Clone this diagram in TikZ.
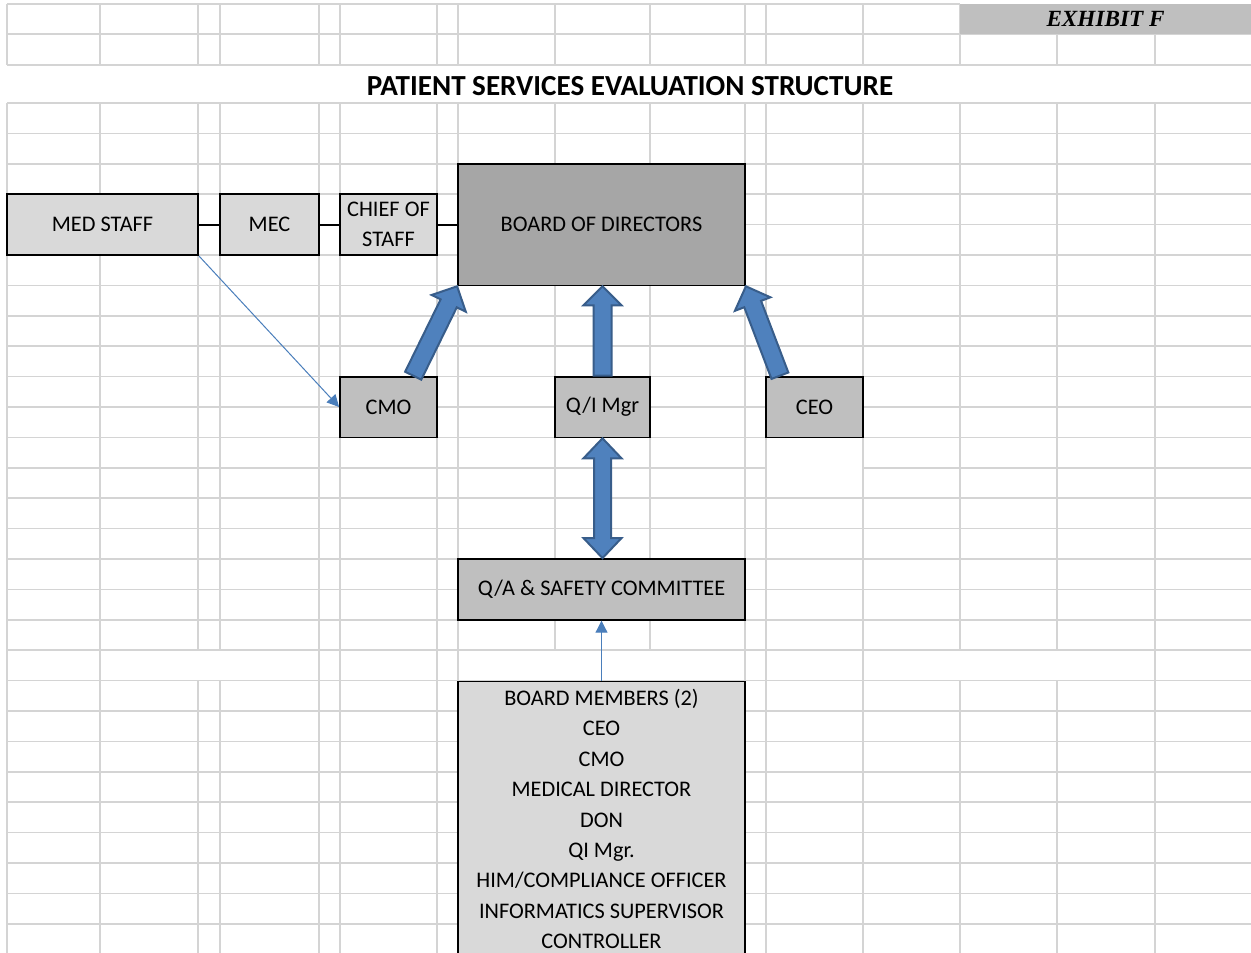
\documentclass[tikz,border=0pt]{standalone}
\usepackage{fontspec}
\setmainfont{Carlito}
\newfontfamily\exhibitfont{Liberation Serif}
\usetikzlibrary{arrows.meta,calc}

\definecolor{gridgray}{RGB}{212,212,212}
\definecolor{lightcell}{RGB}{217,217,217}
\definecolor{midcell}{RGB}{191,191,191}
\definecolor{darkcell}{RGB}{166,166,166}
\definecolor{arrowfill}{RGB}{79,129,189}
\definecolor{arrowedge}{RGB}{56,93,138}
\definecolor{thinblue}{RGB}{74,126,187}

% fat block arrow, tail #1, tip #2
\newcommand{\blockarrow}[2]{%
  \coordinate (ba-s) at (#1);
  \coordinate (ba-t) at (#2);
  \coordinate (ba-h) at ($(ba-t)!19pt!(ba-s)$);
  \filldraw[fatarrow] ($(ba-s)!9pt!90:(ba-t)$) -- ($(ba-h)!9pt!90:(ba-t)$)
    -- ($(ba-h)!19pt!90:(ba-t)$) -- (ba-t) -- ($(ba-h)!19pt!-90:(ba-t)$)
    -- ($(ba-h)!9pt!-90:(ba-t)$) -- ($(ba-s)!9pt!-90:(ba-t)$) -- cycle;
}
% fat arrow with a head at both ends
\newcommand{\twowayarrow}[2]{%
  \coordinate (ta-s) at (#1);
  \coordinate (ta-t) at (#2);
  \coordinate (ta-h1) at ($(ta-s)!20pt!(ta-t)$);
  \coordinate (ta-h2) at ($(ta-t)!20pt!(ta-s)$);
  \filldraw[fatarrow] (ta-s) -- ($(ta-h1)!19pt!90:(ta-t)$) -- ($(ta-h1)!8.5pt!90:(ta-t)$)
    -- ($(ta-h2)!8.5pt!90:(ta-t)$) -- ($(ta-h2)!19pt!90:(ta-t)$) -- (ta-t)
    -- ($(ta-h2)!19pt!-90:(ta-t)$) -- ($(ta-h2)!8.5pt!-90:(ta-t)$)
    -- ($(ta-h1)!8.5pt!-90:(ta-t)$) -- ($(ta-h1)!19pt!-90:(ta-t)$) -- cycle;
}

\begin{document}
\begin{tikzpicture}[
  x=1pt, y=-1pt,
  every node/.style={font=\fontsize{22.3}{30.4}\selectfont},
  gridline/.style={draw=gridgray, line width=1.7pt},
  cellbox/.style={draw=black, line width=1.8pt, inner sep=0pt, align=center,
                  minimum width=97pt, minimum height=60.8pt},
  fatarrow/.style={fill=arrowfill, draw=arrowedge, line width=2pt},
  thinarrow/.style={draw=thinblue, line width=1pt, -{Triangle[length=12pt,width=12pt]}},
  link/.style={draw=black, line width=1.8pt},
]
  \useasboundingbox (0,0) rectangle (1251,953);
  \fill[white] (0,0) rectangle (1251,953);
  \clip (0,0) rectangle (1251,953);

  % Spreadsheet grid
  \draw[gridline] (7,4) -- (960,4);
  \foreach \y in {34,65,103,133.4,163.8,194.2,224.6,255,285.4,315.8,346.2,376.6,
                  407,437.4,498.2,528.6,559,589.4,619.8,650.2,680.6,711,741.4,
                  771.8,802.2,832.6,863,893.4,923.8}
    \draw[gridline] (7,\y) -- (1251,\y);
  \draw[gridline] (7,467.8) -- (766,467.8) (863,467.8) -- (1251,467.8);
  \foreach \x in {7,100,319,340,437,458,745,766,863,1155}
    \draw[gridline] (\x,4) -- (\x,65) (\x,103) -- (\x,953);
  \foreach \x in {198,220,555,650,960,1057}
    \draw[gridline] (\x,4) -- (\x,65) (\x,103) -- (\x,650.2) (\x,680.6) -- (\x,953);

  % Headings
  \node[fill=midcell, minimum width=291pt, minimum height=30pt, inner sep=0pt,
        font=\exhibitfont\bfseries\itshape\fontsize{23.2}{28}\selectfont]
    (exhibit) at (1105.5,19) {EXHIBIT F};
  \node[font=\bfseries\fontsize{29.1}{34}\selectfont] (title) at (630,86)
    {PATIENT SERVICES EVALUATION STRUCTURE};

  % Medical staff row
  \node[cellbox, fill=lightcell, minimum width=191pt] (med) at (102.5,224.6) {MED STAFF};
  \node[cellbox, fill=lightcell, minimum width=99pt] (mec) at (269.5,224.6) {MEC};
  \node[cellbox, fill=lightcell] (chief) at (388.5,224.6) {CHIEF OF\\STAFF};
  \node[cellbox, fill=darkcell, minimum width=287pt, minimum height=121.6pt]
    (board) at (601.5,224.6) {BOARD OF DIRECTORS};

  % Reporting row
  \node[cellbox, fill=midcell] (cmo) at (388.5,407) {CMO};
  \node[cellbox, fill=midcell, minimum width=95pt] (qi) at (602.5,407) {Q/I Mgr};
  \node[cellbox, fill=midcell] (ceo) at (814.5,407) {CEO};

  % Committee
  \node[cellbox, fill=midcell, minimum width=287pt] (qa) at (601.5,589.4)
    {Q/A \& SAFETY COMMITTEE};
  \node[cellbox, fill=lightcell, minimum width=287pt, minimum height=275pt,
        anchor=north] (members) at (601.5,680.6)
    {BOARD MEMBERS (2)\\CEO\\CMO\\MEDICAL DIRECTOR\\DON\\QI Mgr.\\
     HIM/COMPLIANCE OFFICER\\INFORMATICS SUPERVISOR\\CONTROLLER};

  % Links
  \draw[link] (med) -- (mec);
  \draw[link] (mec) -- (chief);
  \draw[link] (chief) -- (board);
  \draw[thinarrow] (med.south east) -- (cmo.west);
  \draw[thinarrow] (members.north) -- (members.north |- qa.south);

  % Block arrows
  \blockarrow{$(cmo.north)!0.5!(cmo.north east)$}{board.south west}
  \blockarrow{qi.north}{qi.north |- board.south}
  \blockarrow{$(ceo.north west)!0.3!(ceo.north)$}{board.south east}
  \twowayarrow{qi.south}{qi.south |- qa.north}
\end{tikzpicture}
\end{document}
